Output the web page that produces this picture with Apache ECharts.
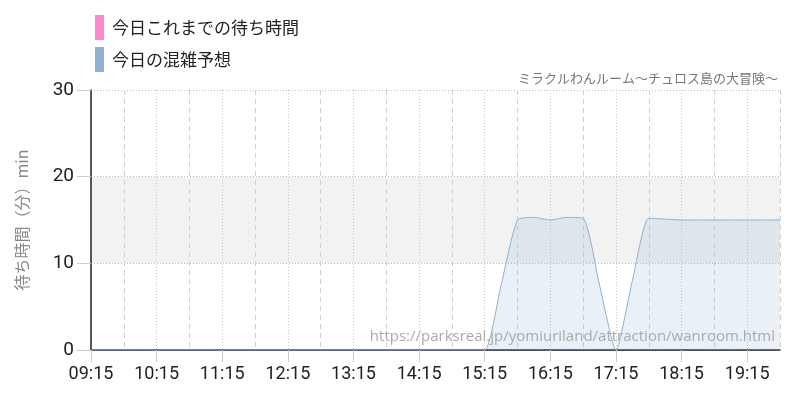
<!DOCTYPE html>
<html>
<head>
<meta charset="utf-8">
<script src="https://cdn.jsdelivr.net/npm/echarts@6/dist/echarts.min.js"></script>
<style>html,body{margin:0;padding:0;background:#fff}#c{width:800px;height:400px}</style>
</head>
<body>
<div id="c"></div>
<script>
// 15-minute slots from 09:15 to 19:45
var times = ['09:15','09:30','09:45','10:00','10:15','10:30','10:45','11:00','11:15','11:30','11:45','12:00','12:15','12:30','12:45','13:00','13:15','13:30','13:45','14:00','14:15','14:30','14:45','15:00','15:15','15:30','15:45','16:00','16:15','16:30','16:45','17:00','17:15','17:30','17:45','18:00','18:15','18:30','18:45','19:00','19:15','19:30','19:45'];
var actualWait = [];
var forecastWait = [0,0,0,0,0,0,0,0,0,0,0,0,0,0,0,0,0,0,0,0,0,0,0,0,0,7.5,15,15.3,15,15.3,15.2,7.5,0,8,15.2,15.1,15,15,15,15,15,15,15];
var yTicks = [0,10,20,30];
var seriesNames = ['今日これまでの待ち時間','今日の混雑予想'];
var titleText = 'ミラクルわんルーム〜チュロス島の大冒険〜';
var sourceUrl = 'https://parksreal.jp/yomiuriland/attraction/wanroom.html';

var numFont = "Roboto,'Liberation Sans',sans-serif";
var jpFont = "'Noto Sans CJK JP','Noto Sans',sans-serif";

var chart = echarts.init(document.getElementById('c'), null, {renderer:'canvas'});
chart.setOption({
  animation: false,
  backgroundColor: '#fff',
  title: {
    text: titleText, right: 17, top: 67,
    textStyle: {fontFamily: jpFont, fontSize: 13, fontWeight: 'normal', color: '#777'}
  },
  legend: {
    orient: 'vertical', left: 90, top: 10, itemWidth: 9, itemHeight: 25, itemGap: 7,
    icon: 'rect',
    textStyle: {fontFamily: jpFont, fontSize: 17, color: '#222', padding: [0,0,0,3]},
    data: seriesNames
  },
  graphic: [{
    type: 'text', right: 25, top: 329, silent: true, z: 100,
    style: {text: sourceUrl, fill: '#aaa', font: "15px 'Open Sans','Noto Sans',sans-serif"}
  }],
  grid: {left: 91, right: 20, top: 90, bottom: 50},
  xAxis: [{
    type: 'category', data: times, boundaryGap: false,
    axisLine: {lineStyle: {color: '#1a2533', width: 1.5}},
    axisTick: {show: true, length: 12, lineStyle: {color: '#ccc'}, interval: function(i){return i%4===0;}},
    axisLabel: {interval: function(i){return i%4===0;}, fontFamily: numFont, fontSize: 18, color: '#222', margin: 15},
    splitLine: {show: true, interval: function(i){return i%4===0 && i>0;}, lineStyle: {color: '#c8c8c8', type: [1,2]}}
  },{
    type: 'category', data: times, boundaryGap: false, position: 'bottom',
    axisLine: {show: false}, axisTick: {show: false}, axisLabel: {show: false},
    splitLine: {show: true, interval: function(i){return i%4===2;}, lineStyle: {color: '#d0d0d0', type: [5,4]}}
  }],
  yAxis: {
    type: 'value', min: 0, max: 30, interval: 10,
    name: '待ち時間（分）min', nameLocation: 'middle', nameGap: 61, nameRotate: 90,
    nameTextStyle: {fontFamily: jpFont, fontSize: 16, color: '#888'},
    axisLine: {show: true, lineStyle: {color: '#222', width: 1.5}},
    axisTick: {show: true, length: 14, lineStyle: {color: '#ccc'}},
    axisLabel: {fontFamily: numFont, fontSize: 19, color: '#222', margin: 17,
      formatter: function(v){return yTicks.indexOf(v)>=0 ? String(v) : '';}},
    splitLine: {show: true, lineStyle: {color: '#bbb', type: [1,2]}},
    splitArea: {show: true, areaStyle: {color: ['rgba(0,0,0,0)','#f2f2f2']}}
  },
  series: [{
    name: seriesNames[0], type: 'line', data: actualWait,
    itemStyle: {color: '#ff88cc'}, showSymbol: false
  },{
    name: seriesNames[1], type: 'line', data: forecastWait, smooth: 0.2,
    showSymbol: false, symbol: 'none',
    itemStyle: {color: '#8fb0cf'},
    lineStyle: {color: '#8fb0d0', width: 1},
    areaStyle: {color: 'rgba(143,176,207,0.28)'}
  }]
});
</script>
</body>
</html>
